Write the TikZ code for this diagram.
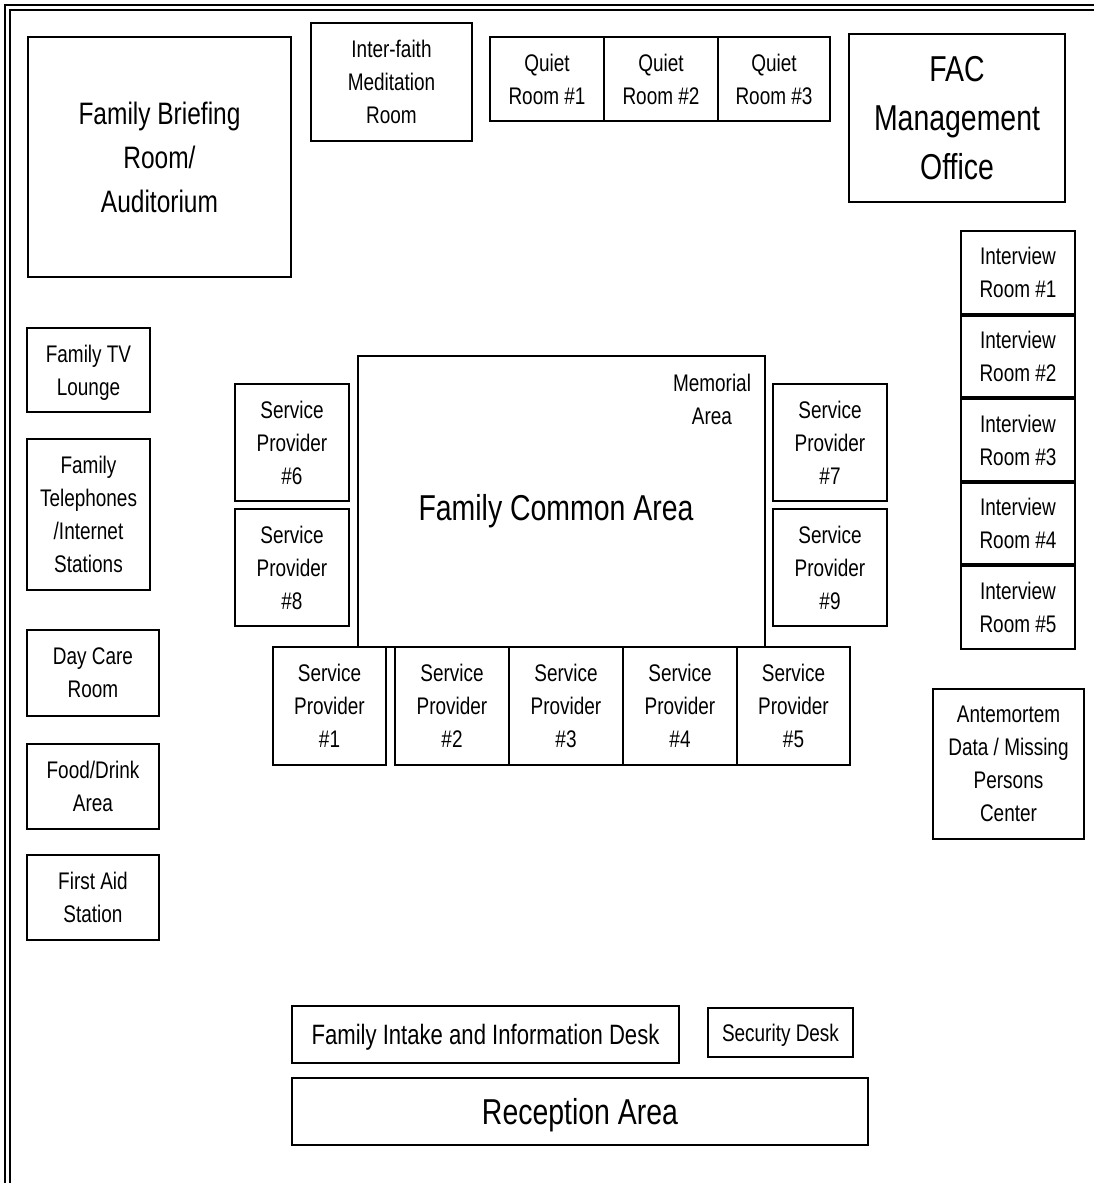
\documentclass[tikz,border=0pt]{standalone}
\usepackage{fontspec}
\setmainfont{Liberation Sans}[FakeStretch=0.79]
\begin{document}
\begin{tikzpicture}[x=1pt,y=-1pt,
  roomsty/.style={draw=black, line width=1.3pt, inner sep=0pt, outer sep=0pt, align=center, fill=white, text depth=0pt},
  fs/.style={font=\fontsize{24}{33}\selectfont},
  fm/.style={font=\fontsize{28}{36}\selectfont},
  fb/.style={font=\fontsize{31}{44}\selectfont},
  fl/.style={font=\fontsize{36}{49}\selectfont},
  framesty/.style={draw=black, line width=1.6pt}]
\newcommand\roombox[7]{\node[roomsty,#7, minimum width={#4-#2}, minimum height={#5-#3}] (#1) at ({(#2+#4)/2},{(#3+#5)/2}) {#6};}
\useasboundingbox (0,0) rectangle (1094,1183);
% outer frame
\coordinate (fa1) at (5,1183); \coordinate (fa2) at (5,5); \coordinate (fa3) at (1094,5);
\coordinate (fb1) at (10,1183); \coordinate (fb2) at (10,10); \coordinate (fb3) at (1094,10);
\draw[framesty] (fa1) -- (fa2) -- (fa3);
\draw[framesty] (fb1) -- (fb2) -- (fb3);
% top row
\roombox{brief}{28}{37}{291}{277}{Family Briefing\\Room/\\Auditorium}{fb}
\roombox{faith}{311}{23}{472}{141}{Inter-faith\\Meditation\\Room}{fs}
\roombox{q1}{490}{37}{604}{121}{Quiet\\Room \#1}{fs}
\roombox{q2}{604}{37}{718}{121}{Quiet\\Room \#2}{fs}
\roombox{q3}{718}{37}{830}{121}{Quiet\\Room \#3}{fs}
\roombox{fac}{849}{34}{1065}{202}{FAC\\Management\\Office}{fl}
% interview rooms
\roombox{ir1}{961}{231}{1075}{314}{Interview\\Room \#1}{fs}
\roombox{ir2}{961}{316}{1075}{397}{Interview\\Room \#2}{fs}
\roombox{ir3}{961}{399}{1075}{481}{Interview\\Room \#3}{fs}
\roombox{ir4}{961}{483}{1075}{564}{Interview\\Room \#4}{fs}
\roombox{ir5}{961}{566}{1075}{649}{Interview\\Room \#5}{fs}
\roombox{ante}{933}{689}{1084}{839}{Antemortem\\Data / Missing\\Persons\\Center}{fs}
% left column
\roombox{tv}{27}{328}{150}{412}{Family TV\\Lounge}{fs}
\roombox{tel}{27}{439}{150}{590}{Family\\Telephones\\/Internet\\Stations}{fs}
\roombox{day}{27}{630}{159}{716}{Day Care\\Room}{fs}
\roombox{food}{27}{744}{159}{829}{Food/Drink\\Area}{fs}
\roombox{aid}{27}{855}{159}{940}{First Aid\\Station}{fs}
% common area
\roombox{fca}{358}{356}{765}{647}{}{fs}
\node[fl, inner sep=0pt, text depth=0pt] (fcalabel) at (556,507) {Family Common Area};
\node[fs, align=center, inner sep=0pt, text depth=0pt] (memorial) at (712,399) {Memorial\\Area};
% service providers
\roombox{sp6}{235}{384}{349}{501}{Service\\Provider\\\#6}{fs}
\roombox{sp8}{235}{509}{349}{626}{Service\\Provider\\\#8}{fs}
\roombox{sp7}{773}{384}{887}{501}{Service\\Provider\\\#7}{fs}
\roombox{sp9}{773}{509}{887}{626}{Service\\Provider\\\#9}{fs}
\roombox{sp1}{273}{647}{386}{765}{Service\\Provider\\\#1}{fs}
\roombox{sp2}{395}{647}{509}{765}{Service\\Provider\\\#2}{fs}
\roombox{sp3}{509}{647}{623}{765}{Service\\Provider\\\#3}{fs}
\roombox{sp4}{623}{647}{737}{765}{Service\\Provider\\\#4}{fs}
\roombox{sp5}{737}{647}{850}{765}{Service\\Provider\\\#5}{fs}
% bottom desks
\roombox{intake}{292}{1006}{679}{1063}{Family Intake and Information Desk}{fm}
\roombox{security}{708}{1008}{853}{1057}{Security Desk}{fs}
\roombox{reception}{292}{1078}{868}{1145}{Reception Area}{fl}
\end{tikzpicture}
\end{document}
